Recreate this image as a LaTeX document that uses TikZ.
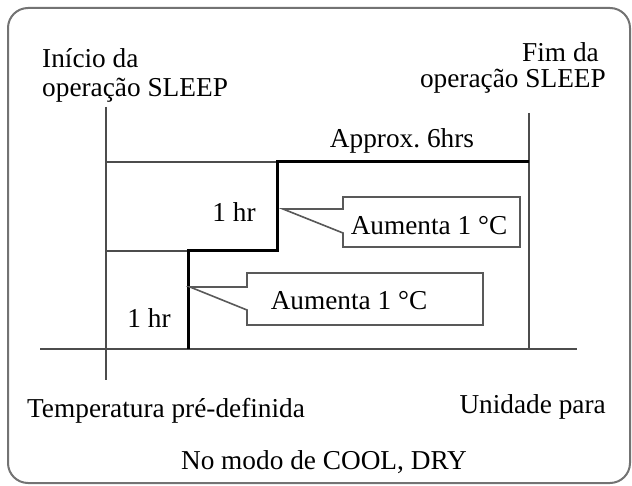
\documentclass[tikz,border=0pt]{standalone}
\usepackage{fontspec}
\setmainfont{Liberation Serif}
\frenchspacing
\begin{document}
\begin{tikzpicture}[x=1pt,y=-1pt,
  lbl/.style={inner sep=0pt, font=\fontsize{27.3}{30}\selectfont},
  thin/.style={draw=black!70, line width=1.6pt},
  thick/.style={draw=black, line width=3pt},
  callout/.style={draw=black!65, line width=1.6pt, fill=white},
  frame/.style={draw=black!55, line width=2pt, rounded corners=20pt}]
\useasboundingbox (0,0) rectangle (632,486);
\draw[frame] (8,8) rectangle (630,483);
% coordinates
\coordinate (L1) at (106,107); \coordinate (L2) at (106,380);
\coordinate (R1) at (529,113); \coordinate (R2) at (529,349);
\coordinate (B1) at (40,349);  \coordinate (B2) at (577,349);
\coordinate (T1) at (106,162); \coordinate (S1) at (277,162); \coordinate (T2) at (529,162);
\coordinate (M1) at (106,251); \coordinate (S2) at (277,251); \coordinate (S3) at (188,251);
\coordinate (S4) at (188,349);
% axes and guides
\draw[thin] (L1) -- (L2);
\draw[thin] (R1) -- (R2);
\draw[thin] (B1) -- (B2);
\draw[thin] (T1) -- (S1);
\draw[thin] (M1) -- (S3);
% step line
\draw[thick, line join=miter] (T2) -- (S1) -- (S2) -- (S3) -- (S4);
% callouts
\draw[callout] (343,197) -- (520,197) -- (520,247) -- (343,247) -- (343,233) -- (283,209) -- (343,209) -- cycle;
\draw[callout] (247,273) -- (483,273) -- (483,325) -- (247,325) -- (247,310) -- (190,287) -- (247,287) -- cycle;
% labels
\node[lbl, anchor=base west] (ini1) at (42,68) {Início da};
\node[lbl, anchor=base west] (ini2) at (42,97) {operação SLEEP};
\node[lbl, anchor=base east] (fim1) at (599,62) {Fim da};
\node[lbl, anchor=base east] (fim2) at (606,88) {operação SLEEP};
\node[lbl, anchor=base] (approx) at (402,148) {Approx. 6hrs};
\node[lbl, anchor=base] (hr1) at (234,222) {1 hr};
\node[lbl, anchor=base] (hr2) at (149,327) {1 hr};
\node[lbl, anchor=base] (aum1) at (429,235) {Aumenta 1 °C};
\node[lbl, anchor=base] (aum2) at (349,310) {Aumenta 1 °C};
\node[lbl, anchor=base west] (temp) at (27,417) {Temperatura pré-definida};
\node[lbl, anchor=base east] (unid) at (606,413) {Unidade para};
\node[lbl, anchor=base] (modo) at (324,469) {No modo de COOL, DRY};
\end{tikzpicture}
\end{document}
